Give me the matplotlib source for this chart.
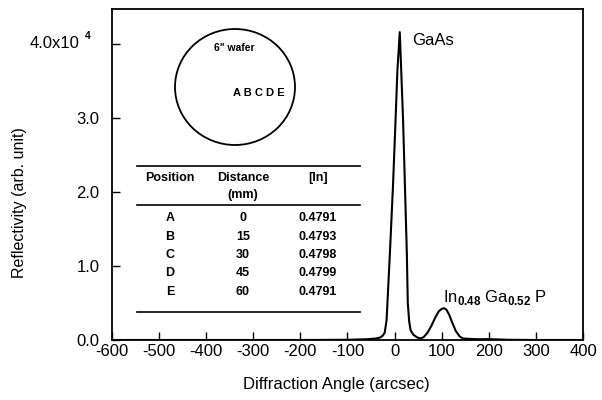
import matplotlib
matplotlib.use("Agg")
import matplotlib.pyplot as plt
from matplotlib.lines import Line2D
from matplotlib.patches import Ellipse

plt.rcParams['font.family'] = ['Liberation Sans', 'DejaVu Sans']
plt.rcParams['mathtext.fontset'] = 'custom'
plt.rcParams['mathtext.rm'] = 'Liberation Sans'
plt.rcParams['mathtext.bf'] = 'Liberation Sans:bold'

# Data (reflectivity in units of 1e4)
angle = [-600, -200, -100, -60, -40, -30, -25, -21, -17, -10, -3.5, 2, 6, 11, 14, 18,
         22, 26, 28, 31, 34, 40, 48, 55, 62, 70, 78, 86, 94, 100, 105, 110, 116, 122,
         130, 138, 145, 160, 180, 200, 220, 240, 300, 400]
refl = [0, 0, 0.003, 0.01, 0.02, 0.035, 0.06, 0.1, 0.27, 1.17, 2.07, 2.97, 3.65, 4.16,
        3.65, 2.97, 2.07, 1.17, 0.5, 0.25, 0.13, 0.07, 0.035, 0.02, 0.04, 0.1, 0.19,
        0.3, 0.39, 0.42, 0.43, 0.41, 0.34, 0.24, 0.12, 0.05, 0.02, 0.015, 0.01, 0.012,
        0.008, 0.003, 0, 0]

xticks = [-600, -500, -400, -300, -200, -100, 0, 100, 200, 300, 400]
yticks = [0, 1, 2, 3, 4]
ytick_labels = ["0.0", "1.0", "2.0", "3.0", ""]

tab_header = ["Position", "Distance", "[In]"]
positions = ["A", "B", "C", "D", "E"]
distances = ["0", "15", "30", "45", "60"]
in_frac = ["0.4791", "0.4793", "0.4798", "0.4799", "0.4791"]

W, H = 602, 400
fig = plt.figure(figsize=(W / 100, H / 100), dpi=100)

def fx(x):
    return x / W

def fy(y):
    return 1 - y / H

ax = fig.add_axes([fx(112), fy(340), fx(583) - fx(112), fy(9) - fy(340)])
ax.plot(angle, refl, color='black', lw=1.5)
ax.set_xlim(-600, 400)
ax.set_ylim(0, 4.473)
ax.set_xticks(xticks)
ax.set_xticklabels([str(t) for t in xticks])
ax.set_yticks(yticks)
ax.set_yticklabels(ytick_labels)
ax.tick_params(direction='in', length=6, width=1.0, labelsize=12, pad=3)
ax.tick_params(axis='y', pad=9)
for s in ax.spines.values():
    s.set_linewidth(1.3)

# 4.0x10^4 label
fig.text(fx(80), fy(44), "4.0x10", ha='right', va='center', fontsize=12)
fig.text(fx(85), fy(36), "4", ha='left', va='center', fontsize=7.5, fontweight='bold')

fig.text(fx(20), fy(203), "Reflectivity (arb. unit)", rotation=90, ha='center',
         va='center', fontsize=11.5)
fig.text(fx(336), fy(384), "Diffraction Angle (arcsec)", ha='center', va='center',
         fontsize=12)

# Peak labels
ax.text(38, 4.05, "GaAs", fontsize=12, ha='left', va='center')
ax.text(103, 0.58, r"In$_{\mathbf{0.48}}$ Ga$_{\mathbf{0.52}}$ P",
        fontsize=12, ha='left', va='center')

# Wafer circle
fig.add_artist(Ellipse((fx(235), fy(87)), fx(120), 116 / H, transform=fig.transFigure,
                       fill=False, lw=1.3, ec='black'))
fig.text(fx(234), fy(48), '6" wafer', ha='center', va='center', fontsize=7.5,
         fontweight='bold')
fig.text(fx(233), fy(93), "A B C D E", ha='left', va='center', fontsize=8,
         fontweight='bold')

# Table
for yy in [166, 205, 312]:
    fig.add_artist(Line2D([fx(137), fx(360)], [fy(yy), fy(yy)], color='black', lw=1.2,
                          transform=fig.transFigure))
cols = [170, 243, 318]
fs = 9
for c, h in zip(cols, tab_header):
    fig.text(fx(c), fy(178), h, ha='center', va='center', fontsize=fs, fontweight='bold')
fig.text(fx(243), fy(195), "(mm)", ha='center', va='center', fontsize=fs,
         fontweight='bold')
rows_y = [218, 237, 255, 273, 292]
for ry, p, d, v in zip(rows_y, positions, distances, in_frac):
    fig.text(fx(cols[0]), fy(ry), p, ha='center', va='center', fontsize=fs, fontweight='bold')
    fig.text(fx(cols[1]), fy(ry), d, ha='center', va='center', fontsize=fs, fontweight='bold')
    fig.text(fx(cols[2]), fy(ry), v, ha='center', va='center', fontsize=fs, fontweight='bold')

fig.savefig("out.png", dpi=100)
